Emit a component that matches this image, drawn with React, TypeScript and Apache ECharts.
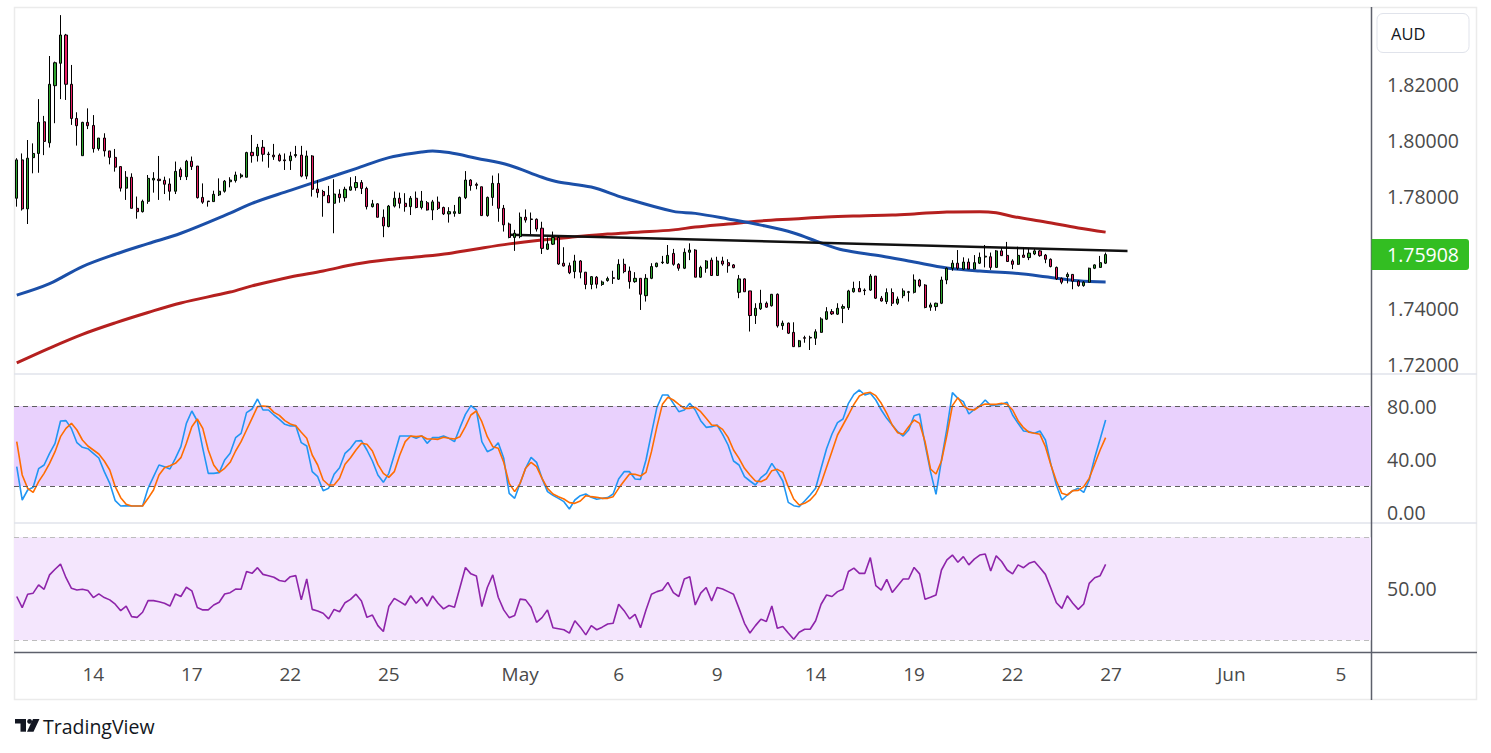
import React, { useEffect, useRef } from "react";
import * as echarts from "echarts";

// ---------- data ----------
const SLOT_COUNT = 248;
const dateTicks: [number, string][] = [
  [14, "14"], [32, "17"], [50, "22"], [68, "25"], [92, "May"], [110, "6"],
  [128, "9"], [146, "14"], [164, "19"], [182, "22"], [200, "27"], [222, "Jun"], [242, "5"],
];

const opens = [
  1.7792, 1.7929, 1.7754, 1.7937, 1.7952, 1.8065, 1.7990, 1.8194, 1.8274, 1.8375,
  1.8199, 1.8077, 1.7944, 1.8063, 1.8052, 1.7969, 1.8007, 1.7961, 1.7938, 1.7905,
  1.7828, 1.7867, 1.7756, 1.7744, 1.7781, 1.7857, 1.7860, 1.7856, 1.7843, 1.7817,
  1.7895, 1.7869, 1.7924, 1.7907, 1.7795, 1.7782, 1.7780, 1.7804, 1.7817, 1.7851,
  1.7855, 1.7869, 1.7867, 1.7956, 1.7944, 1.7974, 1.7950, 1.7946, 1.7946, 1.7929,
  1.7926, 1.7944, 1.7946, 1.7871, 1.7943, 1.7825, 1.7816, 1.7802, 1.7774, 1.7807,
  1.7794, 1.7821, 1.7830, 1.7848, 1.7827, 1.7762, 1.7772, 1.7724, 1.7691, 1.7764,
  1.7792, 1.7774, 1.7762, 1.7792, 1.7759, 1.7776, 1.7750, 1.7778, 1.7759, 1.7736,
  1.7738, 1.7738, 1.7794, 1.7857, 1.7842, 1.7833, 1.7730, 1.7795, 1.7845, 1.7756,
  1.7700, 1.7652, 1.7655, 1.7724, 1.7718, 1.7717, 1.7685, 1.7610, 1.7628, 1.7652,
  1.7560, 1.7551, 1.7530, 1.7568, 1.7528, 1.7484, 1.7510, 1.7484, 1.7498, 1.7508,
  1.7503, 1.7556, 1.7532, 1.7494, 1.7506, 1.7444, 1.7506, 1.7548, 1.7562, 1.7560,
  1.7595, 1.7556, 1.7542, 1.7599, 1.7607, 1.7510, 1.7542, 1.7571, 1.7516, 1.7568,
  1.7562, 1.7554, 1.7456, 1.7504, 1.7461, 1.7373, 1.7397, 1.7417, 1.7408, 1.7449,
  1.7337, 1.7346, 1.7313, 1.7262, 1.7294, 1.7293, 1.7292, 1.7313, 1.7360, 1.7387,
  1.7378, 1.7399, 1.7401, 1.7458, 1.7470, 1.7464, 1.7464, 1.7514, 1.7435, 1.7423,
  1.7455, 1.7417, 1.7444, 1.7456, 1.7456, 1.7500, 1.7482, 1.7403, 1.7405, 1.7417,
  1.7500, 1.7542, 1.7560, 1.7539, 1.7564, 1.7539, 1.7560, 1.7582, 1.7583, 1.7545,
  1.7604, 1.7588, 1.7568, 1.7556, 1.7589, 1.7580, 1.7593, 1.7604, 1.7589, 1.7574,
  1.7545, 1.7506, 1.7512, 1.7520, 1.7496, 1.7480, 1.7492, 1.7542, 1.7545, 1.7560,
];
const highs = [
  1.7935, 1.7952, 1.8000, 1.7988, 1.8146, 1.8086, 1.8300, 1.8280, 1.8446, 1.8379,
  1.8268, 1.8099, 1.8065, 1.8113, 1.8089, 1.8007, 1.8024, 1.7961, 1.7968, 1.7905,
  1.7889, 1.7881, 1.7798, 1.7787, 1.7875, 1.7885, 1.7943, 1.7869, 1.7863, 1.7923,
  1.7902, 1.7929, 1.7941, 1.7907, 1.7845, 1.7782, 1.7819, 1.7863, 1.7857, 1.7867,
  1.7887, 1.7881, 1.7958, 1.8018, 1.7986, 1.8000, 1.7958, 1.7986, 1.7952, 1.7952,
  1.7958, 1.7979, 1.7979, 1.7962, 1.7946, 1.7857, 1.7822, 1.7836, 1.7860, 1.7824,
  1.7833, 1.7867, 1.7871, 1.7857, 1.7833, 1.7786, 1.7774, 1.7752, 1.7768, 1.7816,
  1.7812, 1.7810, 1.7800, 1.7816, 1.7818, 1.7782, 1.7786, 1.7798, 1.7762, 1.7760,
  1.7768, 1.7798, 1.7889, 1.7860, 1.7848, 1.7833, 1.7798, 1.7873, 1.7881, 1.7768,
  1.7705, 1.7679, 1.7741, 1.7752, 1.7741, 1.7720, 1.7708, 1.7652, 1.7673, 1.7657,
  1.7617, 1.7562, 1.7590, 1.7571, 1.7528, 1.7514, 1.7514, 1.7498, 1.7512, 1.7533,
  1.7574, 1.7576, 1.7548, 1.7528, 1.7506, 1.7521, 1.7560, 1.7562, 1.7586, 1.7625,
  1.7611, 1.7560, 1.7613, 1.7631, 1.7610, 1.7551, 1.7571, 1.7580, 1.7583, 1.7583,
  1.7574, 1.7557, 1.7518, 1.7506, 1.7461, 1.7417, 1.7465, 1.7423, 1.7450, 1.7452,
  1.7355, 1.7348, 1.7349, 1.7286, 1.7301, 1.7301, 1.7324, 1.7367, 1.7403, 1.7396,
  1.7417, 1.7413, 1.7465, 1.7494, 1.7496, 1.7470, 1.7521, 1.7514, 1.7443, 1.7470,
  1.7470, 1.7441, 1.7470, 1.7461, 1.7520, 1.7504, 1.7485, 1.7419, 1.7419, 1.7512,
  1.7545, 1.7571, 1.7607, 1.7581, 1.7577, 1.7589, 1.7598, 1.7625, 1.7598, 1.7607,
  1.7615, 1.7636, 1.7574, 1.7619, 1.7615, 1.7613, 1.7611, 1.7607, 1.7593, 1.7577,
  1.7548, 1.7509, 1.7527, 1.7521, 1.7500, 1.7496, 1.7544, 1.7556, 1.7586, 1.7598,
];
const lows = [
  1.7762, 1.7748, 1.7700, 1.7881, 1.7883, 1.7946, 1.7973, 1.8060, 1.8146, 1.8143,
  1.8054, 1.7980, 1.7944, 1.8039, 1.7955, 1.7962, 1.7941, 1.7913, 1.7887, 1.7816,
  1.7786, 1.7756, 1.7719, 1.7741, 1.7772, 1.7812, 1.7786, 1.7807, 1.7784, 1.7807,
  1.7857, 1.7857, 1.7893, 1.7791, 1.7772, 1.7762, 1.7780, 1.7800, 1.7812, 1.7831,
  1.7848, 1.7863, 1.7867, 1.7919, 1.7923, 1.7923, 1.7901, 1.7929, 1.7923, 1.7893,
  1.7893, 1.7937, 1.7867, 1.7860, 1.7798, 1.7794, 1.7726, 1.7776, 1.7667, 1.7776,
  1.7780, 1.7819, 1.7819, 1.7807, 1.7752, 1.7759, 1.7724, 1.7653, 1.7688, 1.7759,
  1.7756, 1.7744, 1.7732, 1.7756, 1.7752, 1.7748, 1.7714, 1.7750, 1.7732, 1.7705,
  1.7726, 1.7736, 1.7789, 1.7819, 1.7824, 1.7730, 1.7726, 1.7765, 1.7708, 1.7673,
  1.7649, 1.7604, 1.7649, 1.7705, 1.7664, 1.7673, 1.7593, 1.7607, 1.7625, 1.7554,
  1.7548, 1.7521, 1.7506, 1.7506, 1.7467, 1.7467, 1.7470, 1.7479, 1.7494, 1.7486,
  1.7500, 1.7524, 1.7469, 1.7490, 1.7393, 1.7423, 1.7503, 1.7545, 1.7557, 1.7557,
  1.7551, 1.7533, 1.7539, 1.7571, 1.7510, 1.7508, 1.7526, 1.7516, 1.7516, 1.7551,
  1.7526, 1.7542, 1.7435, 1.7458, 1.7316, 1.7343, 1.7393, 1.7401, 1.7405, 1.7330,
  1.7322, 1.7307, 1.7262, 1.7260, 1.7276, 1.7250, 1.7268, 1.7312, 1.7357, 1.7375,
  1.7375, 1.7346, 1.7393, 1.7455, 1.7458, 1.7446, 1.7461, 1.7432, 1.7423, 1.7414,
  1.7407, 1.7411, 1.7435, 1.7423, 1.7452, 1.7474, 1.7399, 1.7390, 1.7390, 1.7414,
  1.7485, 1.7533, 1.7536, 1.7536, 1.7539, 1.7539, 1.7557, 1.7545, 1.7536, 1.7545,
  1.7586, 1.7566, 1.7539, 1.7554, 1.7580, 1.7571, 1.7589, 1.7583, 1.7560, 1.7545,
  1.7500, 1.7485, 1.7488, 1.7467, 1.7476, 1.7476, 1.7491, 1.7539, 1.7544, 1.7557,
];
const closes = [
  1.7929, 1.7754, 1.7935, 1.7952, 1.8063, 1.7995, 1.8199, 1.8276, 1.8375, 1.8199,
  1.8077, 1.8051, 1.8063, 1.8051, 1.7969, 1.8007, 1.7961, 1.7938, 1.7903, 1.7828,
  1.7867, 1.7756, 1.7744, 1.7781, 1.7863, 1.7863, 1.7855, 1.7842, 1.7817, 1.7888,
  1.7869, 1.7924, 1.7905, 1.7794, 1.7778, 1.7780, 1.7806, 1.7817, 1.7853, 1.7857,
  1.7875, 1.7875, 1.7955, 1.7944, 1.7974, 1.7949, 1.7948, 1.7940, 1.7926, 1.7926,
  1.7943, 1.7948, 1.7871, 1.7943, 1.7824, 1.7812, 1.7801, 1.7776, 1.7807, 1.7794,
  1.7824, 1.7833, 1.7848, 1.7827, 1.7762, 1.7772, 1.7724, 1.7693, 1.7764, 1.7792,
  1.7774, 1.7762, 1.7792, 1.7759, 1.7782, 1.7750, 1.7779, 1.7756, 1.7736, 1.7744,
  1.7744, 1.7795, 1.7857, 1.7837, 1.7838, 1.7730, 1.7795, 1.7845, 1.7756, 1.7697,
  1.7652, 1.7667, 1.7724, 1.7714, 1.7716, 1.7682, 1.7613, 1.7629, 1.7652, 1.7557,
  1.7550, 1.7526, 1.7568, 1.7528, 1.7484, 1.7512, 1.7485, 1.7493, 1.7505, 1.7506,
  1.7556, 1.7530, 1.7494, 1.7506, 1.7449, 1.7506, 1.7548, 1.7560, 1.7564, 1.7588,
  1.7556, 1.7542, 1.7599, 1.7607, 1.7510, 1.7545, 1.7568, 1.7516, 1.7568, 1.7557,
  1.7551, 1.7544, 1.7504, 1.7458, 1.7373, 1.7399, 1.7417, 1.7403, 1.7449, 1.7336,
  1.7346, 1.7310, 1.7262, 1.7283, 1.7292, 1.7295, 1.7315, 1.7361, 1.7387, 1.7379,
  1.7399, 1.7405, 1.7461, 1.7470, 1.7458, 1.7462, 1.7514, 1.7435, 1.7425, 1.7455,
  1.7417, 1.7432, 1.7461, 1.7458, 1.7500, 1.7479, 1.7402, 1.7411, 1.7417, 1.7500,
  1.7542, 1.7560, 1.7542, 1.7564, 1.7539, 1.7562, 1.7581, 1.7585, 1.7545, 1.7604,
  1.7587, 1.7566, 1.7556, 1.7588, 1.7581, 1.7596, 1.7604, 1.7587, 1.7574, 1.7548,
  1.7504, 1.7492, 1.7520, 1.7496, 1.7480, 1.7492, 1.7542, 1.7554, 1.7562, 1.75908,
];

// moving averages read at candle indices: [index, price]
const ma100: [number, number][] = [
  [0, 1.7446], [6, 1.7487], [12, 1.7548], [18, 1.7592], [24, 1.7630], [30, 1.7667],
  [39, 1.7739], [43, 1.7774], [50, 1.7820], [56, 1.7859], [62, 1.7898], [68, 1.7937],
  [74, 1.7957], [76, 1.7961], [79, 1.7955], [84, 1.7935], [90, 1.7910], [96, 1.7867],
  [99, 1.7850], [105, 1.7832], [111, 1.7793], [120, 1.7745], [124, 1.7738], [130, 1.7718],
  [136, 1.7696], [142, 1.7668], [147, 1.7632], [151, 1.7607], [158, 1.7586], [164, 1.7564],
  [170, 1.7543], [176, 1.7532], [182, 1.7525], [188, 1.7512], [194, 1.7497], [199, 1.7493],
];
const ma200: [number, number][] = [
  [0, 1.7204], [6, 1.7257], [12, 1.7306], [18, 1.7347], [24, 1.7384], [30, 1.7418],
  [39, 1.7457], [43, 1.7479], [50, 1.7511], [56, 1.7532], [62, 1.7557], [68, 1.7573],
  [74, 1.7584], [79, 1.7595], [84, 1.7611], [90, 1.7629], [96, 1.7643], [102, 1.7654],
  [108, 1.7664], [114, 1.7671], [120, 1.7679], [124, 1.7689], [130, 1.7700], [136, 1.7711],
  [142, 1.7718], [148, 1.7725], [154, 1.7729], [160, 1.7732], [164, 1.7736], [170, 1.7743],
  [176, 1.7744], [179, 1.7740], [182, 1.7727], [188, 1.7707], [194, 1.7686], [199, 1.7671],
];
const trendline: [number, number][] = [[90, 1.7662], [203, 1.7604]];

const stochK = [
  34.5, 9.5, 17, 19, 33, 35.75, 44.5, 52, 68.75, 69,
  63, 52.5, 49, 48, 44.5, 41, 30.75, 22, 9, 5,
  5.25, 5, 5, 5, 18.25, 27, 35.75, 34.5, 32.75, 40.75,
  49.5, 67, 76.25, 68.75, 48.25, 29.5, 29.5, 30, 39.5, 44.5,
  56.25, 59.5, 75, 77.75, 85.25, 77, 77, 73.25, 70, 66.25,
  65, 65.25, 52.5, 50, 30.75, 27, 16.5, 18.25, 28.75, 33.75,
  44.5, 48.25, 53.75, 54, 47, 38.75, 28.25, 22.75, 29.5, 43.25,
  57.5, 57.5, 57.5, 55.75, 57.75, 52, 56.25, 56.25, 57.5, 55.75,
  53.25, 63.75, 73.75, 80.25, 77, 53.25, 45.75, 47.75, 52.5, 40.75,
  14.5, 10.75, 22, 33.25, 41.5, 37.75, 25.75, 15.75, 13, 10.75,
  8.25, 2.75, 9.5, 12.75, 14, 11.5, 10, 10.75, 11.25, 14,
  25.25, 30.75, 30.75, 25.25, 25, 39.5, 59.5, 79, 88.25, 88.25,
  82, 75.75, 77, 82, 77, 69, 64, 64.5, 65.75, 58.75,
  50.75, 38.75, 35.75, 27, 23.75, 20.75, 26.25, 29.5, 37, 30.75,
  23.75, 7.75, 5.25, 4.5, 8.75, 13.25, 18.25, 33.25, 48, 59,
  67.5, 70.25, 82, 88.75, 92, 88.25, 89.5, 84.5, 77, 70.75,
  65.75, 60.75, 57.5, 62, 72.75, 74, 51.25, 30.75, 13.75, 39.5,
  63.25, 90, 85.75, 83.25, 74, 77.5, 80, 84.5, 80.25, 80.75,
  81.25, 82.75, 73.25, 67, 61.25, 60.75, 59.5, 61.25, 54.5, 36.25,
  20.75, 9.5, 13.25, 16.5, 18.25, 15.25, 24.5, 41.25, 55.25, 69.5,
];
const stochD = [
  53.25, 28.25, 18.25, 15.25, 23.25, 29.5, 37, 45.75, 57, 63.25,
  67, 62, 54.5, 50, 47, 44, 38.75, 32, 19.5, 11.25,
  6.25, 5, 5, 5, 10.75, 17, 28.25, 33.75, 35.25, 37,
  41.25, 52, 64.5, 70.25, 63.25, 47, 35.75, 30.25, 33.25, 37.75,
  46.25, 53.25, 62, 70.75, 79.5, 80, 79.5, 75.25, 73, 69,
  66.5, 65.25, 60.25, 55.75, 43.25, 35.75, 24.5, 20.75, 20.75, 25.75,
  36.25, 41.25, 47, 52, 51.25, 46.25, 36.25, 29.5, 26.5, 30.75,
  43.25, 53.25, 57.5, 57, 57.5, 55.25, 55.25, 55, 56.5, 55.75,
  55.25, 57, 64.5, 73.25, 76.25, 68.25, 57, 49.5, 48.25, 37.75,
  22, 15.75, 22, 33.25, 37.75, 34.5, 25.75, 18.25, 14, 12,
  10.25, 7.5, 7, 8.75, 12.75, 12, 11.5, 10.75, 10.75, 12,
  18.25, 23.75, 29, 28.75, 27.5, 30.25, 45.75, 64.5, 81.25, 86.5,
  84.5, 81.25, 78.25, 78.25, 79, 75.75, 70.75, 65.75, 65.25, 62.5,
  56.5, 47, 40.75, 33.25, 28.25, 23.75, 23.25, 25.25, 31.5, 32.5,
  30.25, 19.5, 10.25, 5.75, 7, 9.5, 14, 22, 34, 46,
  58.25, 65.75, 73.25, 81.25, 87.5, 89.5, 90.25, 87.75, 82, 74.5,
  65.75, 60, 58.75, 64.5, 69.5, 67, 53.25, 32.75, 29, 38.75,
  58.25, 80.25, 86.25, 80, 77.5, 77, 80, 81.5, 81.25, 81.25,
  82, 81.25, 77, 69, 63.75, 60.25, 59.5, 58.75, 49.5, 35.75,
  23.75, 14.5, 13.25, 16.5, 16.75, 19.5, 25.75, 36.25, 47, 56.25,
];
const rsi = [
  47, 42.7, 47.9, 48.3, 51.5, 49.8, 55.4, 57.6, 59.6, 54.3,
  50.2, 49.5, 49.8, 49.3, 46.6, 48, 46.6, 45.7, 44, 41.5,
  43.3, 39.2, 38.9, 40.9, 45.4, 45.4, 45, 44.4, 43.3, 48,
  47, 50.6, 49.2, 42.7, 41.8, 41.8, 43.7, 44.8, 48, 48.5,
  49.9, 49.8, 56.7, 56, 58.2, 55.6, 55.1, 54.5, 53.2, 52.8,
  54.7, 55.1, 45.7, 53.8, 42, 41.4, 40.5, 38.3, 42, 41.1,
  44.6, 45.9, 47.9, 45.3, 38.9, 39.8, 35.7, 33.4, 43.1, 46.3,
  45, 43.7, 47.3, 44.4, 46.6, 43.3, 47.2, 44.4, 42.2, 43.5,
  42.8, 50.5, 58.3, 55.8, 55, 43.1, 50.5, 55.4, 46.7, 41.8,
  38.8, 39.6, 46, 45.7, 42.8, 37, 38.8, 41.8, 34.9, 34.5,
  34.1, 32.8, 37.6, 35.1, 32.1, 35.7, 34.1, 35.1, 36.3, 36.6,
  44, 41.5, 38.3, 40.1, 34.9, 41.8, 47.9, 48.9, 49.5, 52.5,
  48.5, 47, 53.8, 54.7, 43.7, 48.3, 50.5, 45.3, 50.5, 49.9,
  48.9, 47.9, 42.4, 36.6, 32.8, 35.7, 38.2, 37.3, 43.3, 34.7,
  35.4, 32.8, 30.4, 33.1, 34.3, 34.3, 37.6, 44, 47.6, 47,
  48.9, 49.8, 56.7, 58, 56, 56, 62.1, 51.2, 49.5, 53.7,
  48.6, 51.2, 53.8, 53.8, 58.3, 55.8, 45.9, 46.7, 47.6, 57.3,
  61.2, 63.1, 60.3, 62.5, 59.3, 61.5, 63.1, 63.5, 56.9, 62.8,
  60.6, 57.3, 55.8, 59.3, 58.2, 59.9, 60.6, 58.2, 55.6, 50.2,
  44.6, 42.4, 47.3, 44.4, 42, 44.1, 52.1, 54.3, 55.1, 59.5,
];

const priceTicks = [1.72, 1.74, 1.78, 1.8, 1.82];
const stochTicks = [0, 40, 80];
const rsiTicks = [50];
const stochBand = [20, 80];
const rsiBand = [30, 70];
const lastPrice = 1.75908;

// ---------- styles ----------
const FONT = "'Open Sans', 'Noto Sans', sans-serif";
const LABEL_COLOR = "#4a4a4a";
const UP = "#2fa52f";
const DOWN = "#e91e63";

export default function App() {
  const ref = useRef<HTMLDivElement>(null);

  useEffect(() => {
    document.body.style.margin = "0";
    const el = ref.current;
    if (!el) return;
    const chart = echarts.init(el, undefined, { renderer: "svg" });

    const tickMap = new Map<number, string>(dateTicks);
    const categories = Array.from({ length: SLOT_COUNT }, (_, i) => String(i));
    const candles = opens.map((o, i) => [o, closes[i], lows[i], highs[i]]);

    const gridBase = { left: 14, right: 120, containLabel: false };
    const hiddenX = (gridIndex: number, showLabels: boolean) => ({
      type: "category" as const,
      gridIndex,
      data: categories,
      boundaryGap: true,
      axisLine: { show: false },
      axisTick: { show: false },
      splitLine: { show: false },
      axisLabel: showLabels
        ? {
            show: true,
            interval: (index: number) => tickMap.has(index),
            formatter: (_v: string, index: number) => tickMap.get(index) ?? "",
            color: LABEL_COLOR,
            fontSize: 19,
            fontFamily: FONT,
            margin: 12,
            hideOverlap: false,
          }
        : { show: false },
    });
    const rightY = (gridIndex: number, min: number, max: number, ticks: number[], digits: number) => ({
      type: "value" as const,
      gridIndex,
      position: "right" as const,
      min,
      max,
      scale: true,
      axisLine: { show: false },
      axisTick: { show: false },
      splitLine: { show: false },
      axisLabel: {
        show: true,
        customValues: ticks,
        formatter: (v: number) => v.toFixed(digits),
        color: LABEL_COLOR,
        fontSize: 19.5,
        fontFamily: FONT,
        margin: 16,
        align: "left",
      },
    });

    const option: any = {
      animation: false,
      backgroundColor: "#ffffff",
      grid: [
        { ...gridBase, top: 8, height: 366 },
        { ...gridBase, top: 374, height: 149 },
        { ...gridBase, top: 523, height: 129.5 },
      ],
      xAxis: [hiddenX(0, false), hiddenX(1, false), hiddenX(2, true)],
      yAxis: [
        rightY(0, 1.716429, 1.847143, priceTicks, 5),
        rightY(1, -7.75, 104, stochTicks, 2),
        rightY(2, 25.26, 75.55, rsiTicks, 2),
      ],
      series: [
        {
          type: "line",
          xAxisIndex: 1,
          yAxisIndex: 1,
          data: [],
          z: 1,
          silent: true,
          markArea: {
            silent: true,
            itemStyle: { color: "#e9d1fd" },
            data: [[{ yAxis: stochBand[0] }, { yAxis: stochBand[1] }]],
          },
        },
        {
          type: "line",
          xAxisIndex: 2,
          yAxisIndex: 2,
          data: [],
          z: 1,
          silent: true,
          markArea: {
            silent: true,
            itemStyle: { color: "#f4e6fd" },
            data: [[{ yAxis: rsiBand[0] }, { yAxis: rsiBand[1] }]],
          },
        },
        {
          type: "line",
          xAxisIndex: 1,
          yAxisIndex: 1,
          data: [],
          z: 2,
          silent: true,
          markLine: {
            silent: true,
            symbol: ["none", "none"],
            label: { show: false },
            lineStyle: { color: "#5e5e5e", width: 1, type: [5, 4] },
            data: stochBand.map((v) => ({ yAxis: v })),
          },
        },
        {
          type: "line",
          xAxisIndex: 2,
          yAxisIndex: 2,
          data: [],
          z: 2,
          silent: true,
          markLine: {
            silent: true,
            symbol: ["none", "none"],
            label: { show: false },
            lineStyle: { color: "#bdbdbd", width: 1, type: [5, 4] },
            data: rsiBand.map((v) => ({ yAxis: v })),
          },
        },
        {
          name: "MA200",
          type: "line",
          xAxisIndex: 0,
          yAxisIndex: 0,
          data: ma200,
          smooth: 0.35,
          showSymbol: false,
          z: 3,
          lineStyle: { color: "#b5201f", width: 3 },
        },
        {
          name: "MA100",
          type: "line",
          xAxisIndex: 0,
          yAxisIndex: 0,
          data: ma100,
          smooth: 0.35,
          showSymbol: false,
          z: 3,
          lineStyle: { color: "#1b4fa8", width: 3 },
        },
        {
          name: "Trend",
          type: "line",
          xAxisIndex: 0,
          yAxisIndex: 0,
          data: trendline,
          showSymbol: false,
          z: 4,
          lineStyle: { color: "#111111", width: 2.5 },
        },
        {
          name: "AUD",
          type: "candlestick",
          xAxisIndex: 0,
          yAxisIndex: 0,
          data: candles,
          barWidth: 2.6,
          z: 5,
          itemStyle: {
            color: UP,
            color0: DOWN,
            borderColor: "#000000",
            borderColor0: "#000000",
            borderWidth: 1,
          },
        },
        {
          name: "%K",
          type: "line",
          xAxisIndex: 1,
          yAxisIndex: 1,
          data: stochK,
          showSymbol: false,
          z: 4,
          lineStyle: { color: "#2196f3", width: 1.6 },
        },
        {
          name: "%D",
          type: "line",
          xAxisIndex: 1,
          yAxisIndex: 1,
          data: stochD,
          showSymbol: false,
          z: 4,
          lineStyle: { color: "#ff6d00", width: 1.6 },
        },
        {
          name: "RSI",
          type: "line",
          xAxisIndex: 2,
          yAxisIndex: 2,
          data: rsi,
          showSymbol: false,
          z: 4,
          lineStyle: { color: "#8e24aa", width: 1.6 },
        },
      ],
      graphic: {
        elements: [
          {
            id: "frame",
            type: "rect",
            silent: true,
            z: -10,
            shape: { x: 14.5, y: 7.5, width: 1462, height: 692 },
            style: { fill: "none", stroke: "#ebebeb", lineWidth: 1.5 },
          },
          {
            id: "sep1",
            type: "line",
            silent: true,
            shape: { x1: 14, y1: 374, x2: 1477, y2: 374 },
            style: { stroke: "#e0e3eb", lineWidth: 1.5 },
          },
          {
            id: "sep2",
            type: "line",
            silent: true,
            shape: { x1: 14, y1: 523, x2: 1477, y2: 523 },
            style: { stroke: "#e0e3eb", lineWidth: 1.5 },
          },
          {
            id: "xline",
            type: "line",
            silent: true,
            shape: { x1: 14, y1: 652.5, x2: 1477, y2: 652.5 },
            style: { stroke: "#5d606b", lineWidth: 1.5 },
          },
          {
            id: "yline",
            type: "line",
            silent: true,
            shape: { x1: 1371.5, y1: 7, x2: 1371.5, y2: 700 },
            style: { stroke: "#5d606b", lineWidth: 1.5 },
          },
          {
            id: "audBox",
            type: "rect",
            silent: true,
            shape: { x: 1377, y: 13.5, width: 92, height: 39, r: 6 },
            style: { fill: "#ffffff", stroke: "#e0e3eb", lineWidth: 1 },
          },
          {
            id: "audText",
            type: "text",
            silent: true,
            x: 1391,
            y: 33,
            style: {
              text: "AUD",
              fill: "#131722",
              font: `16.5px ${FONT}`,
              verticalAlign: "middle",
              align: "left",
            },
          },
          {
            id: "logo",
            type: "group",
            silent: true,
            children: [
              { type: "rect", shape: { x: 15, y: 719, width: 11, height: 4.5 }, style: { fill: "#131722" } },
              { type: "rect", shape: { x: 20.5, y: 719, width: 5.5, height: 12.7 }, style: { fill: "#131722" } },
              { type: "circle", shape: { cx: 29.6, cy: 721.4, r: 2.4 }, style: { fill: "#131722" } },
              {
                type: "polygon",
                shape: { points: [[33, 719], [39.5, 719], [33.5, 731.7], [27, 731.7]] },
                style: { fill: "#131722" },
              },
              {
                type: "text",
                x: 43,
                y: 726,
                style: {
                  text: "TradingView",
                  fill: "#131722",
                  font: `500 19.5px ${FONT}`,
                  verticalAlign: "middle",
                  align: "left",
                },
              },
            ],
          },
        ],
      },
    };

    chart.setOption(option);

    // last-price tag placed through the price scale
    const py = chart.convertToPixel({ yAxisIndex: 0 }, lastPrice) as number;
    chart.setOption({
      graphic: {
        elements: [
          {
            id: "lastTag",
            type: "rect",
            silent: true,
            z: 50,
            shape: { x: 1371.5, y: py - 15.5, width: 97.5, height: 31, r: [0, 3, 3, 0] },
            style: { fill: "#33be22" },
          },
          {
            id: "lastText",
            type: "text",
            silent: true,
            z: 51,
            x: 1387,
            y: py,
            style: {
              text: lastPrice.toFixed(5),
              fill: "#ffffff",
              font: `19.5px ${FONT}`,
              verticalAlign: "middle",
              align: "left",
            },
          },
        ],
      },
    });

    return () => chart.dispose();
  }, []);

  return <div ref={ref} style={{ width: 1491, height: 753 }} />;
}
